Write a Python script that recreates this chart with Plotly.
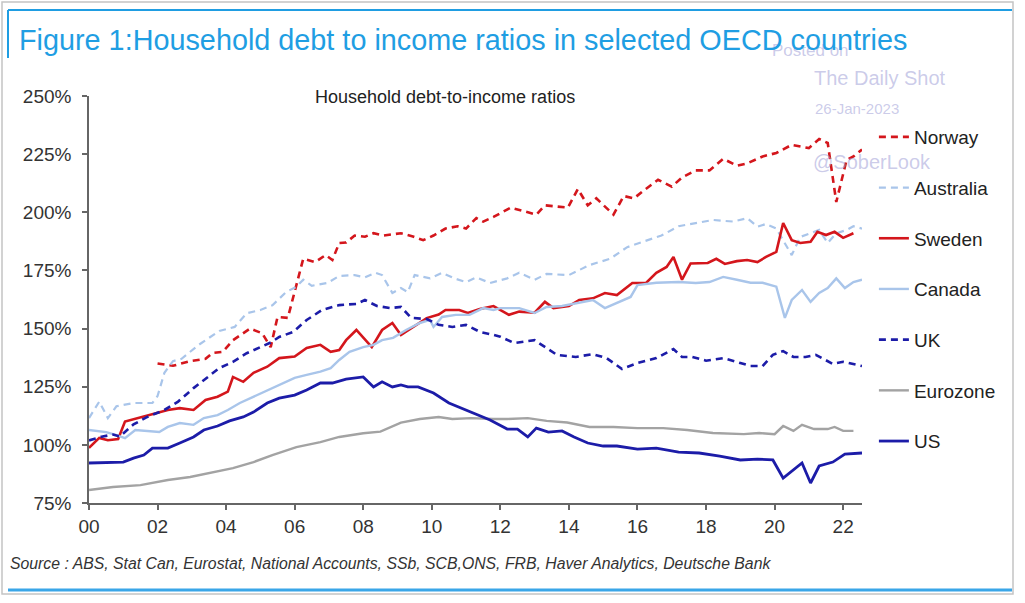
import plotly.graph_objects as go

# ---------------- data (decimal years, % of disposable income) ----------------
norway_x = [2002.0, 2002.45, 2002.95, 2003.4, 2003.6, 2003.9, 2004.2, 2004.7, 2005.05, 2005.3, 2005.5, 2005.8,
            2006.25, 2006.6, 2006.9, 2007.1, 2007.3, 2007.5, 2007.75, 2008.05, 2008.3, 2008.6, 2009.1, 2009.45,
            2009.75, 2010.05, 2010.4, 2010.75, 2011.0, 2011.3, 2011.5, 2011.8, 2012.3, 2013.05, 2013.3, 2013.97,
            2014.26, 2014.55, 2014.8, 2015.3, 2015.6, 2015.9, 2016.15, 2016.6, 2017.0, 2017.3, 2017.7, 2018.1,
            2018.5, 2018.9, 2019.2, 2019.65, 2020.05, 2020.5, 2021.0, 2021.3, 2021.55, 2021.8, 2022.1, 2022.3, 2022.55]
norway_y = [135, 134, 136, 137, 139.5, 140, 145, 150, 148, 142, 155, 154.6,
            180, 178.6, 181.6, 179.5, 186.8, 187, 190, 189.5, 191, 190, 191, 189.6,
            188, 190, 193, 194, 193, 197.5, 196, 198, 202, 199, 203, 202,
            210, 203, 206, 199, 207, 206, 209, 214, 211, 215, 218, 218,
            223, 220, 221, 224, 225.5, 229, 227.6, 231.5, 229.8, 204.4, 222.5, 224, 227]

australia_x = [2000.0, 2000.3, 2000.55, 2000.8, 2001.3, 2001.85, 2002.0, 2002.2, 2002.45, 2002.7, 2003.2, 2003.8,
               2004.25, 2004.6, 2005.0, 2005.35, 2005.75, 2006.05, 2006.25, 2006.5, 2006.95, 2007.3, 2007.75,
               2008.05, 2008.35, 2008.55, 2008.85, 2009.1, 2009.3, 2009.5, 2009.95, 2010.3, 2010.65, 2011.0,
               2011.3, 2011.7, 2012.2, 2012.55, 2013.0, 2013.35, 2014.0, 2014.6, 2015.2, 2015.7, 2016.15, 2016.7,
               2017.2, 2017.6, 2018.2, 2018.8, 2019.2, 2019.5, 2019.75, 2020.05, 2020.25, 2020.5, 2020.75,
               2021.05, 2021.3, 2021.55, 2021.8, 2022.1, 2022.3, 2022.55]
australia_y = [111.5, 118.6, 111.5, 116.6, 118, 118, 121, 131, 136, 137, 143, 149,
               150.7, 156.6, 158, 160, 165.7, 168, 171, 168.4, 169.6, 172.6, 173,
               172, 174, 173, 165.3, 167.4, 165.7, 173, 171.6, 174, 171.6, 170,
               172, 169.6, 171.6, 174, 171, 173.5, 173, 177.3, 180, 185, 187.3, 190,
               194, 195, 196.7, 196, 197.5, 193.8, 195, 193, 188, 181.6, 189.4,
               191, 192.4, 186.8, 191, 192.4, 194, 193]

sweden_x = [2000.0, 2000.3, 2000.55, 2000.85, 2001.05, 2001.45, 2001.85, 2002.3, 2002.65, 2003.05, 2003.4, 2003.75,
            2004.05, 2004.2, 2004.5, 2004.8, 2005.2, 2005.55, 2006.0, 2006.35, 2006.75, 2007.05, 2007.3, 2007.5,
            2007.8, 2008.25, 2008.55, 2008.85, 2009.1, 2009.45, 2009.85, 2010.2, 2010.4, 2010.8, 2011.05, 2011.4,
            2011.8, 2012.25, 2012.55, 2013.0, 2013.3, 2013.55, 2014.0, 2014.3, 2014.7, 2015.05, 2015.4, 2015.85,
            2016.25, 2016.55, 2016.85, 2017.05, 2017.3, 2017.55, 2018.05, 2018.3, 2018.55, 2018.9, 2019.2, 2019.5,
            2019.75, 2020.05, 2020.25, 2020.5, 2020.75, 2021.05, 2021.25, 2021.5, 2021.75, 2022.0, 2022.3]
sweden_y = [98.7, 103, 102, 102.5, 110, 111.5, 113.3, 115, 115.8, 115, 119.3, 120.7,
            122.9, 129.2, 127.1, 131, 133.6, 137.3, 138, 141.7, 143, 140, 140.8, 145,
            149.4, 142, 149.4, 152.4, 147.2, 150.7, 154.5, 156, 158, 158, 156.7, 158.4,
            159.7, 155.9, 157.3, 156.8, 161.5, 158.8, 159.7, 162.3, 163, 165.3, 164.4, 169.6,
            169.6, 174, 176.5, 180.8, 171, 178, 178.2, 180, 177.8, 179, 179.5, 178.6,
            180.8, 183, 195.4, 188, 186.8, 187.3, 191.6, 190.2, 191.6, 189, 191]

canada_x = [2000.0, 2000.5, 2000.8, 2001.05, 2001.35, 2001.7, 2002.05, 2002.3, 2002.65, 2003.05, 2003.35, 2003.75,
            2004.05, 2004.4, 2004.8, 2005.2, 2005.55, 2006.0, 2006.35, 2006.75, 2007.05, 2007.3, 2007.6, 2008.0,
            2008.3, 2008.55, 2008.87, 2009.25, 2009.65, 2009.95, 2010.05, 2010.3, 2010.7, 2011.1, 2011.5, 2011.8,
            2012.0, 2012.55, 2013.0, 2013.35, 2013.8, 2014.3, 2014.7, 2015.05, 2015.4, 2015.8, 2016.0, 2016.55,
            2017.2, 2017.7, 2018.1, 2018.5, 2018.9, 2019.3, 2019.65, 2020.05, 2020.3, 2020.5, 2020.8, 2021.05,
            2021.3, 2021.55, 2021.8, 2022.05, 2022.3, 2022.55]
canada_y = [106.4, 105.5, 104.2, 102.9, 106.4, 106, 105.5, 107.7, 109.4, 108.6, 111.5, 112.8,
            115, 118, 120.7, 123.7, 125.9, 128.8, 130.1, 131.5, 133, 136.5, 140, 142,
            143, 145, 146, 149.4, 152.4, 153.7, 150.7, 155, 155.9, 155.9, 158.8, 158,
            158.8, 158.8, 156.7, 159.3, 159.7, 161, 162.3, 158.8, 161, 163.6, 168.7, 169.7,
            170, 169.6, 170, 172.2, 171, 169.7, 169.7, 168, 154.6, 162.3, 166.6, 161.5,
            165.3, 167.4, 171.6, 167.4, 170, 171]

uk_x = [2000.0, 2000.4, 2000.7, 2000.9, 2001.3, 2001.7, 2002.2, 2002.6, 2003.05, 2003.45, 2003.8, 2004.2,
        2004.6, 2005.0, 2005.3, 2005.55, 2005.95, 2006.35, 2006.8, 2007.3, 2007.8, 2008.05, 2008.4, 2008.8,
        2009.1, 2009.4, 2009.85, 2010.2, 2010.6, 2011.0, 2011.4, 2011.8, 2012.0, 2012.4, 2013.0, 2013.65,
        2014.2, 2014.7, 2015.1, 2015.55, 2016.0, 2016.55, 2017.05, 2017.3, 2017.6, 2018.0, 2018.5, 2019.0,
        2019.3, 2019.65, 2019.95, 2020.25, 2020.55, 2020.9, 2021.2, 2021.7, 2022.0, 2022.55]
uk_y = [101.9, 103.6, 104.4, 103.6, 108.8, 112, 115, 118.6, 124.4, 128.8, 133, 135.7,
        139.4, 142, 144, 146.4, 148.5, 153.7, 158, 160.1, 160.6, 162.3, 159.7, 158.8,
        159.3, 154.6, 154.1, 151.6, 150.7, 151.6, 148.6, 147.3, 146.5, 143.8, 145, 138.7,
        137.8, 139, 137.3, 132.6, 135.2, 137.3, 141.2, 137.8, 137.8, 136.2, 137.3, 135.2,
        133.9, 133.9, 138.7, 140.3, 137.8, 137.8, 138.7, 134.8, 135.7, 133.9]

eurozone_x = [2000.0, 2000.7, 2001.5, 2002.3, 2002.95, 2003.6, 2004.2, 2004.8, 2005.35, 2006.05, 2006.75, 2007.3,
              2008.0, 2008.5, 2009.1, 2009.65, 2010.2, 2010.6, 2011.15, 2011.8, 2012.2, 2012.8, 2013.35, 2013.95,
              2014.6, 2015.3, 2016.0, 2016.75, 2017.45, 2018.2, 2019.1, 2019.55, 2020.0, 2020.25, 2020.55, 2020.8,
              2021.15, 2021.55, 2021.75, 2022.0, 2022.3]
eurozone_y = [80.6, 81.9, 82.7, 84.9, 86.2, 88.3, 90, 92.6, 95.6, 99, 101.2, 103.4,
              105, 105.7, 109.6, 111.1, 112, 111.1, 111.5, 111.1, 111.1, 111.5, 110.3, 109.6,
              107.7, 107.7, 107.2, 107.2, 106.4, 105.1, 104.6, 105.1, 104.6, 108.1, 106, 108.6,
              106.8, 106.8, 107.7, 106, 106]

us_x = [2000.0, 2001.0, 2001.3, 2001.6, 2001.85, 2002.3, 2002.65, 2003.05, 2003.35, 2003.75, 2004.1, 2004.5,
        2004.8, 2005.2, 2005.55, 2006.0, 2006.35, 2006.75, 2007.1, 2007.5, 2008.0, 2008.3, 2008.55, 2008.85,
        2009.1, 2009.3, 2009.6, 2010.05, 2010.5, 2011.0, 2011.4, 2011.7, 2012.2, 2012.5, 2012.8, 2013.05,
        2013.4, 2013.8, 2014.15, 2014.55, 2015.0, 2015.4, 2016.0, 2016.55, 2017.2, 2017.8, 2018.4, 2019.0,
        2019.5, 2019.95, 2020.25, 2020.8, 2021.05, 2021.3, 2021.7, 2022.05, 2022.55]
us_y = [92.2, 92.6, 94.3, 95.6, 98.6, 98.6, 100.8, 103.4, 106.4, 108.1, 110.3, 112,
        114.1, 118, 120.1, 121.4, 123.6, 126.6, 126.6, 128.3, 129.2, 124.9, 127.1, 124.9,
        125.8, 124.9, 124.9, 122.3, 118, 115, 112.4, 110.7, 106.8, 106.8, 103.4, 107.2,
        105.5, 106, 103.4, 100.8, 99.5, 99.5, 98.2, 98.6, 96.9, 96.5, 95.2, 93.5,
        93.9, 93.5, 85.7, 92.2, 83.6, 90.9, 92.6, 96, 96.5]

x_tickvals = [2000, 2002, 2004, 2006, 2008, 2010, 2012, 2014, 2016, 2018, 2020, 2022]
x_ticktext = ["00", "02", "04", "06", "08", "10", "12", "14", "16", "18", "20", "22"]
y_tickvals = [75, 100, 125, 150, 175, 200, 225, 250]
y_ticktext = ["75%", "100%", "125%", "150%", "175%", "200%", "225%", "250%"]

# ---------------- styling ----------------
W, H = 1025, 603
L, R, T, B = 89, 862, 96, 503
FONT = "Liberation Sans, Arial, sans-serif"
DASH = "7px,5px"

series = [
    ("Norway", norway_x, norway_y, "#d4161c", DASH, 2.6),
    ("Australia", australia_x, australia_y, "#a9c5ea", DASH, 2.2),
    ("Sweden", sweden_x, sweden_y, "#d4161c", "solid", 2.6),
    ("Canada", canada_x, canada_y, "#a9c5ea", "solid", 2.4),
    ("UK", uk_x, uk_y, "#1c1ca8", DASH, 2.6),
    ("Eurozone", eurozone_x, eurozone_y, "#a3a3a3", "solid", 2.4),
    ("US", us_x, us_y, "#1c1ca8", "solid", 2.8),
]

fig = go.Figure()
for i, (name, xs, ys, col, dash, w) in enumerate(series):
    fig.add_trace(go.Scatter(x=xs, y=ys, name=name, mode="lines", legendgroup=f"g{i}",
                             line=dict(color=col, dash=dash, width=w), hoverinfo="skip"))


def px(p):
    return (p - L) / (R - L)


def py(p):
    return (B - p) / (B - T)


shapes = [
    dict(type="rect", xref="paper", yref="paper", x0=px(2), x1=px(1013), y0=py(2), y1=py(594),
         line=dict(color="#c4c4c4", width=1.5), layer="below"),
    dict(type="line", xref="paper", yref="paper", x0=px(8), x1=px(1012), y0=py(10), y1=py(10),
         line=dict(color="#1f9de2", width=2)),
    dict(type="line", xref="paper", yref="paper", x0=px(8), x1=px(8), y0=py(10), y1=py(58),
         line=dict(color="#1f9de2", width=2)),
    dict(type="line", xref="paper", yref="paper", x0=px(8), x1=px(1012), y0=py(590), y1=py(590),
         line=dict(color="#3aa6e8", width=3)),
]

WM = "rgba(160,160,215,0.55)"
annotations = [
    dict(text="Posted on", x=px(770), y=py(51), font=dict(size=17, color=WM, family=FONT)),
    dict(text="Figure 1:Household debt to income ratios in selected OECD countries", x=px(17), y=py(40),
         font=dict(size=28.8, color="#1f9ee3", family=FONT)),
    dict(text="The Daily Shot", x=px(812), y=py(78), font=dict(size=20, color=WM, family=FONT)),
    dict(text="26-Jan-2023", x=px(813), y=py(108), font=dict(size=15, color=WM, family=FONT)),
    dict(text="@SoberLook", x=px(811), y=py(162), font=dict(size=20, color=WM, family=FONT)),
    dict(text="Household debt-to-income ratios", x=px(313), y=py(97),
         font=dict(size=18, color="#222222", family=FONT)),
    dict(text="<i>Source : ABS, Stat Can, Eurostat, National Accounts, SSb, SCB,ONS, FRB, Haver Analytics, Deutsche Bank</i>",
         x=px(8), y=py(563), font=dict(size=15.8, color="#333333", family="Liberation Sans Narrow, " + FONT)),
]
for a in annotations:
    a.update(xref="paper", yref="paper", xanchor="left", yanchor="middle", showarrow=False)

fig.update_layout(
    width=W, height=H,
    margin=dict(l=L, r=W - R, t=T, b=H - B, pad=0),
    paper_bgcolor="white", plot_bgcolor="white",
    font=dict(family=FONT, color="#333333"),
    showlegend=True,
    hovermode=False,
    legend=dict(x=1.0154, y=py(118), xanchor="left", yanchor="top", bgcolor="rgba(0,0,0,0)",
                font=dict(size=19, color="#222222", family=FONT), tracegroupgap=23,
                traceorder="grouped"),
    shapes=shapes,
    annotations=annotations,
    xaxis=dict(range=[2000, 2022.55], tickvals=x_tickvals, ticktext=x_ticktext, showgrid=False,
               zeroline=False, showline=True, linecolor="#666666", linewidth=1.5, ticks="outside",
               ticklen=5, tickcolor="#666666", tickwidth=1.5,
               tickfont=dict(size=19, color="#333333", family=FONT)),
    yaxis=dict(range=[75, 250], tickvals=y_tickvals, ticktext=y_ticktext, showgrid=False,
               zeroline=False, showline=True, linecolor="#666666", linewidth=1.5, ticks="outside",
               ticklen=5, tickcolor="#666666", tickwidth=1.5, ticklabelstandoff=7,
               tickfont=dict(size=19, color="#333333", family=FONT)),
)

fig.write_html("out.html", config={"displayModeBar": False},
               post_script="document.body.style.margin='0';")
